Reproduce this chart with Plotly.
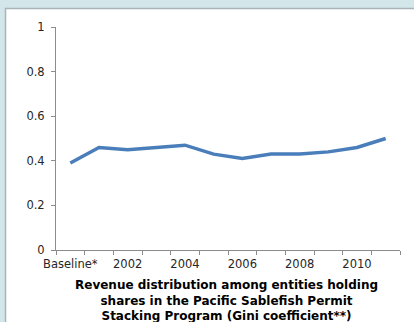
import plotly.graph_objects as go

categories = ["Baseline*", "2001", "2002", "2003", "2004", "2005", "2006",
              "2007", "2008", "2009", "2010", "2011"]
gini = [0.39, 0.46, 0.45, 0.46, 0.47, 0.43, 0.41, 0.43, 0.43, 0.44, 0.46, 0.50]
tick_labels = ["Baseline*", "", "2002", "", "2004", "", "2006", "", "2008", "", "2010", ""]
y_ticks = [0, 0.2, 0.4, 0.6, 0.8, 1]
y_tick_labels = ["0", "0.2", "0.4", "0.6", "0.8", "1"]
title_text = ("Revenue distribution among entities holding<br>"
              "shares in the Pacific Sablefish Permit<br>"
              "Stacking Program (Gini coefficient**)")

W, H = 414, 322
L, R, T, B = 56, 14, 27, 72
pw, ph = W - L - R, H - T - B

def px_x(x):
    return (x - L) / pw

def px_y(y):
    return (H - B - y) / ph

fig = go.Figure()
fig.add_trace(go.Scatter(
    x=categories, y=gini, mode="lines",
    line=dict(color="#4a7ebb", width=3.5),
    showlegend=False, hoverinfo="skip",
))

fig.add_shape(type="rect", xref="paper", yref="paper",
              x0=px_x(5.5), x1=px_x(420), y0=px_y(330), y1=px_y(8.5),
              fillcolor="white", line=dict(color="#a8b4b6", width=1.5),
              layer="below")

fig.add_annotation(text=title_text, xref="paper", yref="paper",
                   x=px_x(226), y=px_y(277), xanchor="center", yanchor="top",
                   showarrow=False, align="center", borderpad=0,
                   font=dict(family="DejaVu Sans", size=12, color="black", weight="bold"))

fig.update_layout(
    width=W, height=H,
    margin=dict(l=L, r=R, t=T, b=B),
    paper_bgcolor="#d3e7ea",
    plot_bgcolor="rgba(0,0,0,0)",
    font=dict(family="DejaVu Sans", size=11.5, color="#262626"),
)
fig.update_xaxes(
    type="category", categoryorder="array", categoryarray=categories,
    range=[-0.5, 11.5], tickangle=0,
    tickmode="array", tickvals=categories, ticktext=tick_labels,
    tickson="boundaries", ticks="outside", ticklen=4, tickcolor="#8c8c8c",
    ticklabelstandoff=3,
    showline=True, linecolor="#8c8c8c", linewidth=1,
    showgrid=False, zeroline=False,
)
fig.update_yaxes(
    range=[0, 1], tickmode="array", tickvals=y_ticks, ticktext=y_tick_labels,
    ticks="outside", ticklen=4, tickcolor="#8c8c8c",
    ticklabelstandoff=4,
    showline=True, linecolor="#8c8c8c", linewidth=1,
    showgrid=False, zeroline=False,
)

fig.write_html("out.html")
